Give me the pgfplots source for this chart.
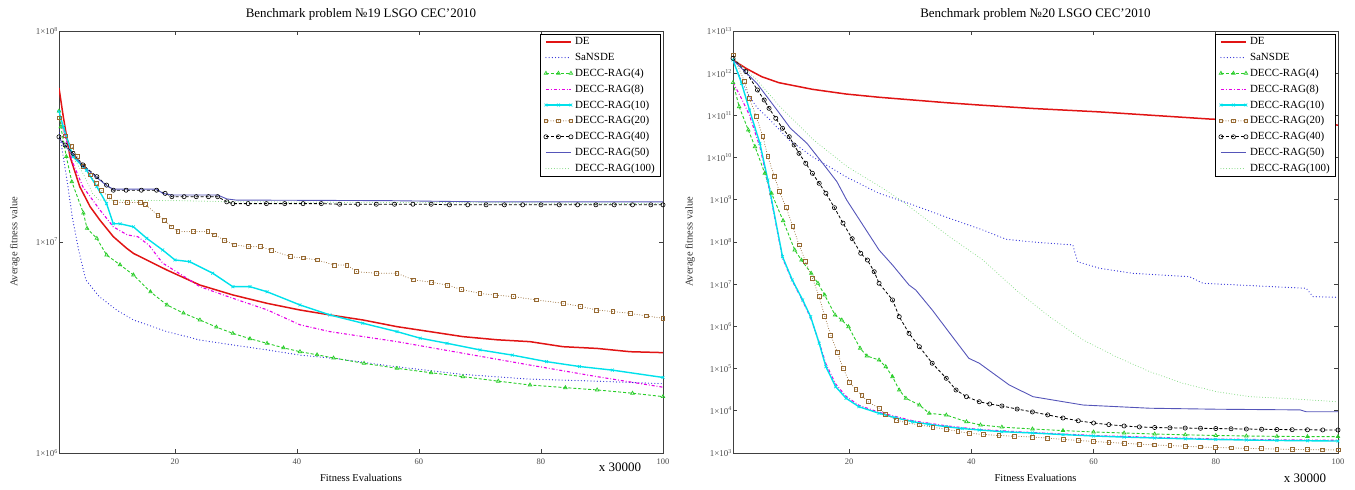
\documentclass[border=0pt]{standalone}
\usepackage{fontspec}
\setmainfont{Liberation Serif}
\usepackage{pgfplots}
\pgfplotsset{compat=1.18}
\definecolor{cDE}{RGB}{225,20,20}
\definecolor{cSa}{RGB}{40,40,215}
\definecolor{cF}{RGB}{40,205,40}
\definecolor{cMg}{RGB}{230,0,230}
\definecolor{cT}{RGB}{0,225,235}
\definecolor{cW}{RGB}{150,105,50}
\definecolor{cFi}{RGB}{85,85,185}
\definecolor{cH}{RGB}{120,215,120}
\tikzset{
 sDE/.style={color=cDE, line width=1.5bp, mark=none},
 sSa/.style={color=cSa, line width=1.2bp, line cap=round, dash pattern=on 0bp off 3.2bp, mark=none},
 sF/.style={color=cF, line width=0.9bp, dash pattern=on 3bp off 2bp, mark=triangle, mark size=2bp, mark options={solid, line width=0.7bp}},
 sMg/.style={color=cMg, line width=1.1bp, dash pattern=on 3bp off 2bp on 0.8bp off 2bp, mark=none},
 sT/.style={color=cT, line width=1.4bp, mark=x, mark size=2bp, mark options={solid, line width=0.7bp}},
 sW/.style={color=cW, line width=1bp, line cap=round, dash pattern=on 0bp off 2.5bp, mark=square, mark size=1.9bp, mark options={solid, line width=0.8bp}},
 sFo/.style={color=black, line width=0.8bp, dash pattern=on 3bp off 2bp, mark=o, mark size=2.1bp, mark options={solid, line width=0.6bp}},
 sFi/.style={color=cFi, line width=0.9bp, mark=none},
 sH/.style={color=cH, line width=1bp, line cap=round, dash pattern=on 0bp off 2.8bp, mark=none},
}
\pgfplotsset{
 chartbase/.style={
  scale only axis, height=422bp,
  xmin=1, xmax=100, xtick={20,40,60,80,100},
  tick align=inside, major tick length=4bp, yminorticks=false, xminorticks=false,
  axis line style={black!75, line width=0.9bp},
  every tick/.style={black!75, line width=0.7bp},
  /pgf/number format/assume math mode=true,
  xticklabel style={font=\fontsize{8.5}{10}\selectfont, text=black!70, yshift=-2bp},
  yticklabel style={font=\fontsize{9}{10}\selectfont, text=black!70, inner sep=1bp},
  xlabel style={at={(axis description cs:0.5,-0.059)}, anchor=center, font=\fontsize{10.5}{12}\selectfont},
  ylabel style={anchor=center, font=\fontsize{10.5}{12}\selectfont, text=black!80},
  legend cell align=left,
  legend style={at={(0.996,0.993)}, anchor=north east, draw=black, line width=0.6bp, fill=white,
    font=\fontsize{11}{13}\selectfont, inner xsep=3.5bp, inner ysep=1.5bp, row sep=2.8bp},
  legend image code/.code={\draw[##1] plot coordinates {(0bp,0bp) (12.5bp,0bp) (25bp,0bp)};},
 }
}
\begin{document}
\begin{tikzpicture}
\path[use as bounding box] (0,0) rectangle (1355bp,490bp);
% ---------------- left ----------------
\begin{axis}[chartbase, name=L, ymode=log, at={(59bp,37bp)}, anchor=south west, width=604bp,
  ymin=1e6, ymax=1e8, ytick={1e6,1e7,1e8},
  yticklabels={1×10\textsuperscript{6},1×10\textsuperscript{7},1×10\textsuperscript{8}},
  xlabel={Fitness Evaluations},
  ylabel={Average fitness value}, ylabel style={at={(axis description cs:-0.073,0.5)}},
]
\addplot[sDE] coordinates {(1,5.37e7)(1.7,3.93e7)(2.8,2.54e7)(4.4,1.83e7)(6.1,1.47e7)(7.7,1.27e7)(9.9,1.06e7)(12.1,9.33e6)(13.2,8.83e6)(18.7,7.36e6)(24.1,6.25e6)(29.5,5.61e6)(35.1,5.12e6)(40.5,4.76e6)(45.4,4.51e6)(50.8,4.27e6)(56.4,3.97e6)(61.8,3.76e6)(67.2,3.56e6)(72.8,3.44e6)(78.2,3.37e6)(83.6,3.19e6)(89.2,3.13e6)(94.6,3.02e6)(100,2.99e6)};
\addlegendentry{DE}
\addplot[sSa] coordinates {(1,3.4e7)(1.3,3.0e7)(2.3,1.97e7)(3.2,1.3e7)(4.2,9.2e6)(5.4,6.61e6)(7.6,5.51e6)(10.4,4.77e6)(13.2,4.27e6)(18.7,3.76e6)(24.1,3.43e6)(29.5,3.25e6)(35.1,3.08e6)(40.5,2.91e6)(46,2.81e6)(56,2.57e6)(67,2.36e6)(78,2.24e6)(89,2.19e6)(100,2.13e6)};
\addlegendentry{SaNSDE}
\addplot[sF] coordinates {(1,4.17e7)(1.3,3.52e7)(2.2,2.54e7)(3.1,1.93e7)(5,1.37e7)(5.6,1.16e7)(7.2,1.04e7)(8.8,8.67e6)(11,7.8e6)(13.2,6.98e6)(16,5.8e6)(18.7,5.03e6)(21.4,4.6e6)(24.1,4.27e6)(26.8,3.95e6)(29.5,3.69e6)(32.3,3.48e6)(35.1,3.31e6)(37.8,3.15e6)(40.5,3.02e6)(43.3,2.92e6)(46,2.82e6)(51,2.66e6)(56.4,2.52e6)(62,2.40e6)(67.2,2.30e6)(73,2.19e6)(78.2,2.10e6)(84,2.04e6)(89.2,1.99e6)(95,1.92e6)(100,1.85e6)};
\addlegendentry{DECC-RAG(4)}
\addplot[sMg] coordinates {(1,4.2e7)(1.7,3.40e7)(3.3,2.36e7)(4.9,1.83e7)(7.7,1.42e7)(9.9,1.18e7)(12.2,1.08e7)(13.9,1.06e7)(15.7,9.68e6)(18,7.94e6)(22.4,6.61e6)(24.1,6.14e6)(29.5,5.41e6)(35.1,4.77e6)(40.5,4.05e6)(45.4,3.76e6)(56.4,3.37e6)(67.2,2.97e6)(78.2,2.61e6)(89.2,2.30e6)(100,2.05e6)};
\addlegendentry{DECC-RAG(8)}
\addplot[sT] coordinates {(1,4.15e7)(1.7,3.52e7)(3.3,2.54e7)(5.5,2.19e7)(7.2,1.83e7)(8.8,1.52e7)(9.9,1.22e7)(11,1.22e7)(13.2,1.18e7)(15.4,1.04e7)(18,9.16e6)(20,8.22e6)(22.4,8.07e6)(26.2,7.11e6)(29.5,6.14e6)(32.3,6.14e6)(35.1,5.81e6)(40.5,5.03e6)(45.4,4.51e6)(50.8,4.12e6)(56.4,3.76e6)(60.2,3.50e6)(64.6,3.31e6)(70,3.08e6)(75.3,2.91e6)(80.9,2.71e6)(86.3,2.57e6)(91.7,2.47e6)(100,2.28e6)};
\addlegendentry{DECC-RAG(10)}
\addplot[sW] coordinates {(1,3.87e7)(2,3.18e7)(3.1,2.83e7)(4,2.54e7)(5,2.29e7)(6.1,2.08e7)(7.1,1.90e7)(8,1.75e7)(9.2,1.64e7)(10.2,1.54e7)(12.2,1.54e7)(14.3,1.54e7)(15.1,1.51e7)(17.2,1.34e7)(18.3,1.27e7)(19.4,1.18e7)(20.5,1.12e7)(23,1.12e7)(25.4,1.12e7)(26.5,1.08e7)(28.1,1.02e7)(29.7,9.68e6)(32,9.51e6)(34,9.51e6)(35.8,9.16e6)(38.9,8.51e6)(41,8.4e6)(43.3,8.22e6)(46.1,7.78e6)(48.2,7.78e6)(49.8,7.23e6)(53,7.11e6)(56.4,7.11e6)(59.1,6.61e6)(62,6.45e6)(64.6,6.25e6)(67,5.95e6)(70,5.71e6)(72.5,5.6e6)(75.5,5.51e6)(79.3,5.31e6)(83.7,5.12e6)(86.5,4.95e6)(89.1,4.76e6)(91.8,4.68e6)(94.6,4.59e6)(97.3,4.46e6)(100,4.35e6)};
\addlegendentry{DECC-RAG(20)}
\addplot[sFo] coordinates {(1,3.15e7)(2,2.88e7)(3.3,2.63e7)(4.9,2.32e7)(7.2,2.04e7)(8.8,1.86e7)(9.9,1.76e7)(12,1.76e7)(14.5,1.76e7)(17,1.76e7)(18.4,1.70e7)(19.5,1.64e7)(21.5,1.64e7)(23.5,1.64e7)(25.5,1.64e7)(27,1.64e7)(28.5,1.55e7)(29.5,1.52e7)(32,1.52e7)(35,1.52e7)(38,1.52e7)(41,1.52e7)(44,1.52e7)(47,1.51e7)(50,1.51e7)(53,1.51e7)(56,1.51e7)(59,1.51e7)(62,1.51e7)(65,1.50e7)(68,1.50e7)(71,1.50e7)(74,1.50e7)(77,1.50e7)(80,1.50e7)(83,1.50e7)(86,1.50e7)(89,1.50e7)(92,1.50e7)(95,1.50e7)(98,1.50e7)(100,1.50e7)};
\addlegendentry{DECC-RAG(40)}
\addplot[sFi] coordinates {(1,3.1e7)(2,2.85e7)(3.3,2.6e7)(4.9,2.3e7)(7.2,2.02e7)(8.8,1.85e7)(9.9,1.78e7)(17,1.78e7)(18,1.70e7)(19.5,1.67e7)(27,1.67e7)(28.5,1.60e7)(30,1.58e7)(55,1.57e7)(70,1.55e7)(100,1.55e7)};
\addlegendentry{DECC-RAG(50)}
\addplot[sH] coordinates {(1,3.2e7)(2,2.9e7)(3,2.6e7)(5,2.1e7)(6.5,1.7e7)(7.5,1.58e7)(20,1.57e7)(30,1.55e7)(100,1.52e7)};
\addlegendentry{DECC-RAG(100)}
\end{axis}
\node[font=\fontsize{13}{15}\selectfont, anchor=center] at ([xshift=302bp,yshift=439bp]L.south west) {Benchmark problem №19 LSGO CEC'2010};
\node[font=\fontsize{13}{15}\selectfont, anchor=center] at ([xshift=561bp,yshift=-14bp]L.south west) {x 30000};
% ---------------- right ----------------
\begin{axis}[chartbase, name=R, ymode=log, at={(733bp,37bp)}, anchor=south west, width=605bp,
  ymin=1e3, ymax=1e13, ytick={1e3,1e4,1e5,1e6,1e7,1e8,1e9,1e10,1e11,1e12,1e13},
  yticklabels={1×10\textsuperscript{3},1×10\textsuperscript{4},1×10\textsuperscript{5},1×10\textsuperscript{6},1×10\textsuperscript{7},1×10\textsuperscript{8},1×10\textsuperscript{9},1×10\textsuperscript{10},1×10\textsuperscript{11},1×10\textsuperscript{12},1×10\textsuperscript{13}},
  xlabel={Fitness Evaluations},
  ylabel={Average fitness value}, ylabel style={at={(axis description cs:-0.071,0.5)}},
]
\addplot[sDE] coordinates {(1,2.06e12)(3.1,1.31e12)(5.7,8.26e11)(8.5,5.96e11)(14,4.15e11)(19.5,3.21e11)(24.9,2.69e11)(30.4,2.32e11)(35.9,2.0e11)(41.3,1.76e11)(50,1.46e11)(61,1.21e11)(70,9.96e10)(79,8.2e10)(90,6.98e10)(100,5.9e10)};
\addlegendentry{DE}
\addplot[sSa] coordinates {(1,2.0e12)(2,9e11)(3.5,3e11)(5,1.5e11)(7,8e10)(10.2,2.6e10)(14,1.05e10)(19.5,3.5e9)(24.9,1.42e9)(30,8e8)(36.4,3.65e8)(41.9,1.92e8)(45.7,1.16e8)(50,1e8)(56.6,8.5e7)(57.4,3.4e7)(61,2.38e7)(66.4,1.81e7)(75.7,1.51e7)(77.9,1.05e7)(94.8,8.0e6)(95.9,5.06e6)(100,4.9e6)};
\addlegendentry{SaNSDE}
\addplot[sF] coordinates {(1,6e11)(2,1.61e11)(3.5,4.5e10)(4.6,1.81e10)(6.2,4.24e9)(7.3,1.43e9)(9.2,3.2e8)(11.1,6.46e7)(12.2,3.72e7)(13.8,1.81e7)(14.9,1.05e7)(16,5.55e6)(17.7,1.86e6)(18.8,1.42e6)(19.9,9.85e5)(21.8,3.03e5)(22.9,1.99e5)(24.9,1.6e5)(26,1.11e5)(27.1,6.43e4)(28.2,3.11e4)(29.3,1.98e4)(31.5,1.37e4)(33.1,8.73e3)(35.9,7.94e3)(39.2,5.52e3)(41.5,4.61e3)(45,4.1e3)(50,3.71e3)(55,3.4e3)(60,3.15e3)(65,2.98e3)(70,2.82e3)(75,2.7e3)(80,2.6e3)(85,2.53e3)(90,2.48e3)(95,2.45e3)(100,2.45e3)};
\addlegendentry{DECC-RAG(4)}
\addplot[sMg] coordinates {(1,6e11)(2.4,2.5e11)(3.7,1.0e11)(5.4,1.8e10)(6.7,2.6e9)(9.1,4.2e7)(10.7,1.2e7)(12.4,4.0e6)(13.7,1.6e6)(15.1,4.2e5)(16.2,1.3e5)(17.8,4.3e4)(19.5,2.2e4)(21.6,1.35e4)(24.9,9.2e3)(30.4,5.8e3)(35.9,4.4e3)(41.3,3.6e3)(50,3.05e3)(60,2.6e3)(70,2.35e3)(80,2.15e3)(90,2.05e3)(100,2.0e3)};
\addlegendentry{DECC-RAG(8)}
\addplot[sT] coordinates {(1,2.06e12)(2.4,5.77e11)(3.7,1.34e11)(5.4,2.18e10)(6.7,2.94e9)(9.1,4.49e7)(10.7,1.26e7)(12.4,4.23e6)(13.7,1.70e6)(15.1,3.98e5)(16.2,1.11e5)(17.8,3.72e4)(19.5,1.98e4)(21.6,1.25e4)(24.9,8.73e3)(27.5,6.9e3)(30.4,5.52e3)(33,4.8e3)(35.9,4.20e3)(38.5,3.8e3)(41.3,3.51e3)(45,3.2e3)(50,2.98e3)(55,2.73e3)(60,2.53e3)(65,2.38e3)(70,2.27e3)(75,2.17e3)(80,2.09e3)(85,2.03e3)(90,1.98e3)(95,1.95e3)(100,1.92e3)};
\addlegendentry{DECC-RAG(10)}
\addplot[sW] coordinates {(1,2.7e12)(2.9,6.3e11)(3.7,2.54e11)(4.8,9.31e10)(5.9,3.13e10)(6.7,1.05e10)(7.8,3.52e9)(8.6,1.56e9)(9.7,6.5e8)(10.8,2.3e8)(11.8,8.5e7)(12.9,3.41e7)(14,1.38e7)(15.1,5.06e6)(16,1.76e6)(17,6.25e5)(18.1,2.38e5)(19,1.02e5)(20.1,4.63e4)(21.1,3.23e4)(22.1,2.28e4)(23.1,1.64e4)(24.9,1.15e4)(26,8.26e3)(27.7,6.05e3)(29.3,5.22e3)(31.5,4.61e3)(33.7,4.1e3)(35.9,3.65e3)(37.8,3.25e3)(39.7,2.93e3)(42,2.75e3)(44.5,2.6e3)(47,2.5e3)(50,2.39e3)(52.5,2.25e3)(55,2.1e3)(57.5,1.98e3)(60,1.88e3)(62.5,1.78e3)(65,1.70e3)(67.5,1.62e3)(70,1.55e3)(72.5,1.5e3)(75,1.44e3)(77.5,1.39e3)(80,1.35e3)(82.5,1.32e3)(85,1.29e3)(87.5,1.26e3)(90,1.24e3)(92.5,1.22e3)(95,1.2e3)(97.5,1.19e3)(100,1.18e3)};
\addlegendentry{DECC-RAG(20)}
\addplot[sFo] coordinates {(1,2.25e12)(3.1,1.09e12)(5,4.0e11)(6.1,2.32e11)(6.9,1.47e11)(8,8.53e10)(9.1,4.94e10)(10.2,3.13e10)(11,1.99e10)(11.8,1.26e10)(12.9,7.33e9)(14,4.24e9)(15.1,2.46e9)(16.2,1.43e9)(17.6,6.5e8)(19,2.8e8)(20.5,1.2e8)(21.9,5.39e7)(23,3.74e7)(24.1,1.98e7)(24.9,1.05e7)(27.1,4.23e6)(28.2,1.70e6)(29.8,6.85e5)(31.5,3.30e5)(33.6,1.34e5)(35.9,5.89e4)(37.5,3.11e4)(39.2,2.16e4)(41.3,1.64e4)(43,1.45e4)(45,1.3e4)(47.5,1.1e4)(50,9.4e3)(52.5,8e3)(55,6.76e3)(57.5,5.8e3)(60,5.14e3)(62.5,4.7e3)(65,4.37e3)(67.5,4.15e3)(70,4.02e3)(72.5,3.95e3)(75,3.9e3)(77.5,3.85e3)(80,3.8e3)(82.5,3.75e3)(85,3.7e3)(87.5,3.65e3)(90,3.6e3)(92.5,3.57e3)(95,3.55e3)(97.5,3.52e3)(100,3.51e3)};
\addlegendentry{DECC-RAG(40)}
\addplot[sFi] coordinates {(1,2.06e12)(4.9,5.77e11)(8.2,1.34e11)(10.4,4.94e10)(13.1,2.18e10)(15.9,6.68e9)(18,2.69e9)(19.6,9.89e8)(24.9,6.46e7)(27.1,2.85e7)(29.8,9.57e6)(30.9,7.29e6)(33.6,2.45e6)(36.9,5.71e5)(39.6,1.75e5)(41.3,1.34e5)(46.2,4.09e4)(50.1,2.16e4)(58.3,1.37e4)(69.2,1.15e4)(80.1,1.09e4)(93.8,1.05e4)(94.8,9.5e3)(100,9.5e3)};
\addlegendentry{DECC-RAG(50)}
\addplot[sH] coordinates {(1,2.29e12)(4.9,6.9e11)(8.7,1.61e11)(14.2,2.61e10)(19.7,6.08e9)(25.1,2.04e9)(28.4,9.89e8)(36.4,1.34e8)(41.9,3.74e7)(47.3,7.29e6)(52.8,1.70e6)(58.3,4.76e5)(63.7,1.91e5)(69.2,8.45e4)(74.6,4.49e4)(80.1,2.84e4)(85.6,2.16e4)(91,1.98e4)(100,1.64e4)};
\addlegendentry{DECC-RAG(100)}
\end{axis}
\node[font=\fontsize{13}{15}\selectfont, anchor=center] at ([xshift=302.5bp,yshift=439bp]R.south west) {Benchmark problem №20 LSGO CEC'2010};
\node[font=\fontsize{13}{15}\selectfont, anchor=center] at ([xshift=572bp,yshift=-25bp]R.south west) {x 30000};
\end{tikzpicture}
\end{document}
